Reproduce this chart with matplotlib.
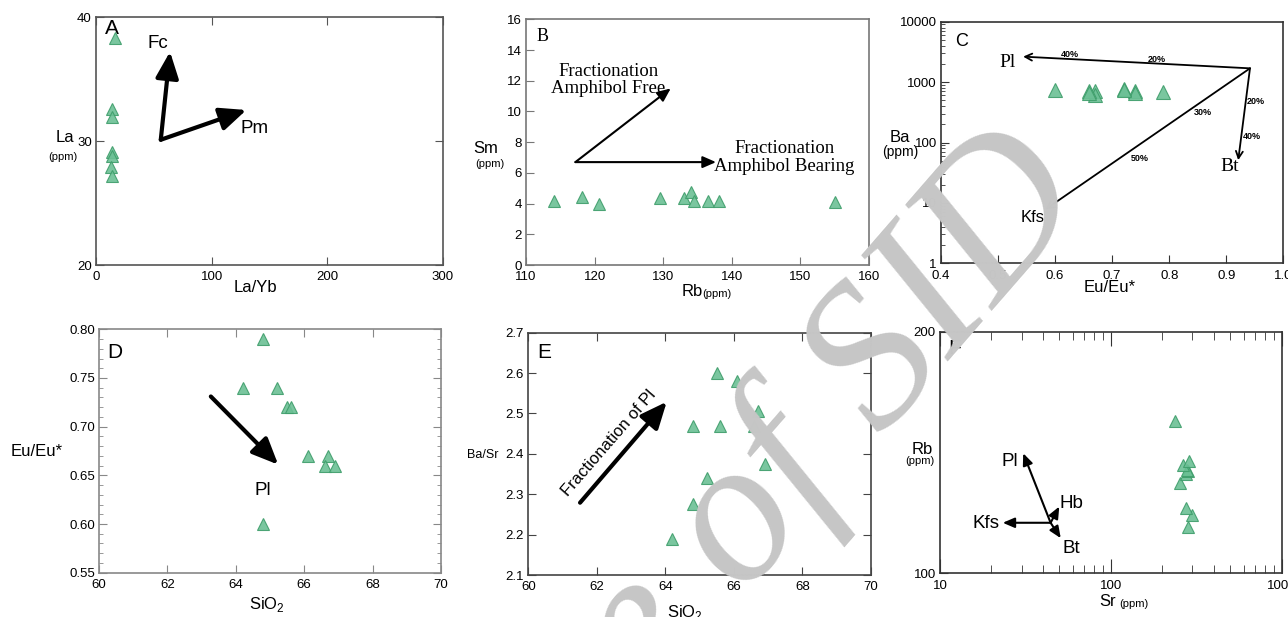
import numpy as np
import matplotlib
matplotlib.use("Agg")
import matplotlib.pyplot as plt
from matplotlib.ticker import FixedLocator, NullLocator, LogLocator, FixedFormatter, NullFormatter

plt.rcParams['font.family'] = ['Liberation Sans', 'DejaVu Sans']
plt.rcParams['mathtext.fontset'] = 'custom'
plt.rcParams['mathtext.rm'] = 'Liberation Sans'

# ---- data ----
# A: La vs La/Yb
la_yb = [16.5, 13.5, 14.0, 13.5, 14.0, 13.0, 13.5]
la = [38.3, 32.6, 31.9, 29.1, 28.8, 27.9, 27.2]

# B / F: Rb, Sm, Sr
rb = [114.1, 118.1, 120.6, 129.5, 133.1, 134.1, 134.5, 136.5, 138.1, 155.0]
sm = [4.15, 4.40, 3.95, 4.35, 4.35, 4.75, 4.20, 4.15, 4.15, 4.10]
sr = [284, 297, 275, 254, 276, 282, 278, 266, 286, 238]

# C / D / E: Eu/Eu*, Ba, SiO2, Ba/Sr
eu_eu = [0.79, 0.74, 0.74, 0.72, 0.72, 0.67, 0.67, 0.66, 0.66, 0.60]
ba = [680, 700, 660, 760, 750, 720, 610, 700, 650, 740]
sio2 = [64.8, 64.2, 65.2, 65.5, 65.6, 66.1, 66.7, 66.6, 66.9, 64.8]
ba_sr = [2.47, 2.19, 2.34, 2.60, 2.47, 2.58, 2.505, 2.47, 2.375, 2.275]

# vectors drawn on the diagrams (origin, tip)
a_vectors = {'Fc': ((56, 30.1), (64, 37.2)), 'Pm': ((56, 30.1), (130, 32.5))}
b_vectors = [((117.2, 6.7), (131.1, 11.5)), ((117.2, 6.7), (137.7, 6.7))]
c_pivot = (0.9416, 1690)
c_ends = {'Pl': (0.544, 2640), 'Bt': (0.921, 51), 'Kfs': (0.583, 7.8)}
d_vector = ((63.27, 0.731), (65.24, 0.661))
e_vector = ((61.51, 2.279), (64.04, 2.529))
f_origin = (44.4, 115.6)
f_ends = {'Pl': (30.7, 141.1), 'Kfs': (23.3, 115.6), 'Hb': (49.9, 121.1), 'Bt': (50.9, 110.6)}

W, H = 1288, 617
fig = plt.figure(figsize=(W / 100, H / 100), dpi=100)

GREEN = '#6cc095'
EDGE = '#3f9e6b'


def add_ax(l, t, r, b):
    return fig.add_axes([l / W, 1 - b / H, (r - l) / W, (b - t) / H])


def ftext(x, y, s, **kw):
    fig.text(x / W, 1 - y / H, s, **kw)


def style_ax(ax, spine='#444444', top=False, right=False):
    for s in ax.spines.values():
        s.set_color(spine)
        s.set_linewidth(1.2)
    ax.tick_params(which='both', direction='in', top=top, right=right,
                   labelsize=9.5, color=spine, pad=3)
    ax.tick_params(axis='x', which='both', pad=4.5)
    ax.tick_params(which='major', length=6)
    ax.tick_params(which='minor', length=3)


def tri(ax, x, y, ms=9):
    ax.plot(x, y, ls='none', marker='^', ms=ms, mfc=GREEN, mec=EDGE,
            mew=0.8, alpha=0.9, zorder=5)


def arrow(ax, start, end, lw=3, style='-|>,head_length=0.8,head_width=0.35', ms=20):
    ax.annotate('', xy=end, xytext=start,
                arrowprops=dict(arrowstyle=style, lw=lw, color='k',
                                mutation_scale=ms, shrinkA=0, shrinkB=0))


# ---- A ----
ax = add_ax(96, 17, 443, 265)
style_ax(ax, '#555555', top=True, right=True)
tri(ax, la_yb, la)
ax.set_xlim(0, 300)
ax.set_ylim(20, 40)
ax.set_xticks([0, 100, 200, 300])
ax.set_yticks([20, 30, 40])
for name, (p0, p1) in a_vectors.items():
    arrow(ax, p0, p1)
ax.text(53.5, 37.9, 'Fc', fontsize=13.5, ha='center', va='center')
ax.text(137, 31.0, 'Pm', fontsize=13.5, ha='center', va='center')
ax.text(0.025, 0.955, 'A', transform=ax.transAxes, fontsize=15, ha='left', va='center')
ftext(65, 138, 'La', fontsize=12, ha='center', va='center')
ftext(63, 157, '(ppm)', fontsize=8, ha='center', va='center')
ftext(255, 288, 'La/Yb', fontsize=12, ha='center', va='center')

# ---- B ----
ax = add_ax(526, 19.3, 869, 265)
style_ax(ax, '#777777')
tri(ax, rb, sm)
ax.set_xlim(110, 160)
ax.set_ylim(0, 16)
ax.set_xticks(np.arange(110, 161, 10))
ax.set_yticks(np.arange(0, 17, 2))
for p0, p1 in b_vectors:
    arrow(ax, p0, p1, lw=1.5, ms=10)
ax.text(122.0, 12.05, 'Fractionation\nAmphibol Free', family='Liberation Serif',
        fontsize=13.5, ha='center', va='center', linespacing=1.05)
ax.text(147.7, 7.0, 'Fractionation\nAmphibol Bearing', family='Liberation Serif',
        fontsize=13.5, ha='center', va='center', linespacing=1.05)
ax.text(0.03, 0.93, 'B', transform=ax.transAxes, family='Liberation Serif',
        fontsize=13, ha='left', va='center')
ftext(486, 148, 'Sm', fontsize=12, ha='center', va='center')
ftext(490, 164, '(ppm)', fontsize=8, ha='center', va='center')
ftext(692, 292, 'Rb', fontsize=12, ha='center', va='center')
ftext(717, 294, '(ppm)', fontsize=8, ha='center', va='center')

# ---- C ----
ax = add_ax(941, 21.7, 1283.3, 263.3)
style_ax(ax, '#333333')
ax.set_yscale('log')
tri(ax, eu_eu, ba, ms=10.5)
ax.set_xlim(0.4, 1.0)
ax.set_ylim(1, 10000)
ax.set_xticks(np.round(np.arange(0.4, 1.01, 0.1), 1))
ax.xaxis.set_major_formatter(FixedFormatter(['0.4', '0.5', '0.6', '0.7', '0.8', '0.9', '1.0']))
ax.yaxis.set_major_locator(FixedLocator([1, 10, 100, 1000, 10000]))
ax.yaxis.set_major_formatter(FixedFormatter(['1', '10', '100', '1000', '10000']))
ax.yaxis.set_minor_locator(LogLocator(base=10, subs=np.arange(2, 10)))
ax.yaxis.set_minor_formatter(NullFormatter())
for name, end in c_ends.items():
    arrow(ax, c_pivot, end, lw=1.3, style='->,head_length=0.5,head_width=0.25', ms=10)
pct = [('40%', 0.6256, 2917), ('20%', 0.7786, 2380), ('20%', 0.952, 486),
       ('40%', 0.9445, 125), ('30%', 0.8586, 316), ('50%', 0.7476, 54.7)]
for s, x, y in pct:
    ax.text(x, y, s, fontsize=6.5, fontweight='bold', ha='center', va='center')
ax.text(0.517, 2100, 'Pl', family='Liberation Serif', fontsize=14, ha='center', va='center')
ax.text(0.906, 39.8, 'Bt', family='Liberation Serif', fontsize=14, ha='center', va='center')
ax.text(0.5605, 5.77, 'Kfs', fontsize=12, ha='center', va='center')
ax.text(0.04, 0.92, 'C', transform=ax.transAxes, fontsize=13, ha='left', va='center')
ftext(900, 137, 'Ba', fontsize=12, ha='center', va='center')
ftext(900, 152, '(ppm)', fontsize=10, ha='center', va='center')
ftext(1110, 288, 'Eu/Eu*', fontsize=12, ha='center', va='center')

# ---- D ----
ax = add_ax(99, 329.3, 441, 572.7)
style_ax(ax, '#888888', top=True, right=True)
tri(ax, sio2, eu_eu)
ax.set_xlim(60, 70)
ax.set_ylim(0.55, 0.80)
ax.set_xticks(np.arange(60, 71, 2))
ax.set_yticks(np.round(np.arange(0.55, 0.801, 0.05), 2))
ax.yaxis.set_major_formatter(FixedFormatter(['0.55', '0.60', '0.65', '0.70', '0.75', '0.80']))
ax.yaxis.set_minor_locator(FixedLocator(np.round(np.arange(0.55, 0.801, 0.01), 2)))
arrow(ax, d_vector[0], d_vector[1])
ax.text(64.8, 0.634, 'Pl', fontsize=13.5, ha='center', va='center')
ax.text(0.025, 0.905, 'D', transform=ax.transAxes, fontsize=15, ha='left', va='center')
ftext(37, 452, 'Eu/Eu*', fontsize=12, ha='center', va='center')
ftext(267, 604, 'SiO$_2$', fontsize=12, ha='center', va='center')

# ---- E ----
ax = add_ax(528.3, 332.7, 871, 575)
style_ax(ax, '#444444', top=True, right=True)
tri(ax, sio2, ba_sr)
ax.set_xlim(60, 70)
ax.set_ylim(2.1, 2.7)
ax.set_xticks(np.arange(60, 71, 2))
ax.set_yticks(np.round(np.arange(2.1, 2.71, 0.1), 1))
arrow(ax, e_vector[0], e_vector[1])
ax.text(62.34, 2.426, 'Fractionation of Pl', fontsize=12, rotation=49,
        ha='center', va='center', rotation_mode='anchor')
ax.text(0.025, 0.92, 'E', transform=ax.transAxes, fontsize=15, ha='left', va='center')
ftext(483, 455, 'Ba/Sr', fontsize=9, ha='center', va='center')
ftext(685, 612, 'SiO$_2$', fontsize=12, ha='center', va='center')

# ---- F ----
ax = add_ax(940, 331.7, 1281.7, 573.3)
style_ax(ax, '#333333', top=True)
ax.set_xscale('log')
ax.set_yscale('log')
tri(ax, sr, rb)
ax.set_xlim(10, 1000)
ax.set_ylim(100, 200)
ax.xaxis.set_major_locator(FixedLocator([10, 100, 1000]))
ax.xaxis.set_major_formatter(FixedFormatter(['10', '100', '1000']))
ax.xaxis.set_minor_locator(LogLocator(base=10, subs=np.arange(2, 10)))
ax.xaxis.set_minor_formatter(NullFormatter())
ax.yaxis.set_major_locator(FixedLocator([100, 200]))
ax.yaxis.set_major_formatter(FixedFormatter(['100', '200']))
ax.yaxis.set_minor_locator(NullLocator())
ax.yaxis.set_minor_formatter(NullFormatter())
ax.tick_params(axis='x', which='major', length=10)
ax.tick_params(axis='x', which='minor', length=6)
for name, end in f_ends.items():
    arrow(ax, f_origin, end, lw=1.5, style='-|>,head_length=0.7,head_width=0.3', ms=10)
ax.text(25.7, 137.7, 'Pl', fontsize=13.5, ha='center', va='center')
ax.text(59.0, 122.0, 'Hb', fontsize=13.5, ha='center', va='center')
ax.text(18.6, 115.4, 'Kfs', fontsize=13.5, ha='center', va='center')
ax.text(59.0, 107.4, 'Bt', fontsize=13.5, ha='center', va='center')
ax.text(0.025, 0.93, 'F', transform=ax.transAxes, fontsize=15, ha='left', va='center')
ftext(922, 449, 'Rb', fontsize=12, ha='center', va='center')
ftext(920, 461, '(ppm)', fontsize=8, ha='center', va='center')
ftext(1108, 602, 'Sr', fontsize=12, ha='center', va='center')
ftext(1134, 604, '(ppm)', fontsize=8, ha='center', va='center')

# watermark
fig.text(1095 / W, 1 - 205 / H, 'Archive of SID', family='Liberation Serif',
         style='italic', fontsize=148, color='#c6c6c6', rotation=49,
         rotation_mode='anchor', ha='right', va='baseline', zorder=20)

fig.savefig('out.png', dpi=100)
